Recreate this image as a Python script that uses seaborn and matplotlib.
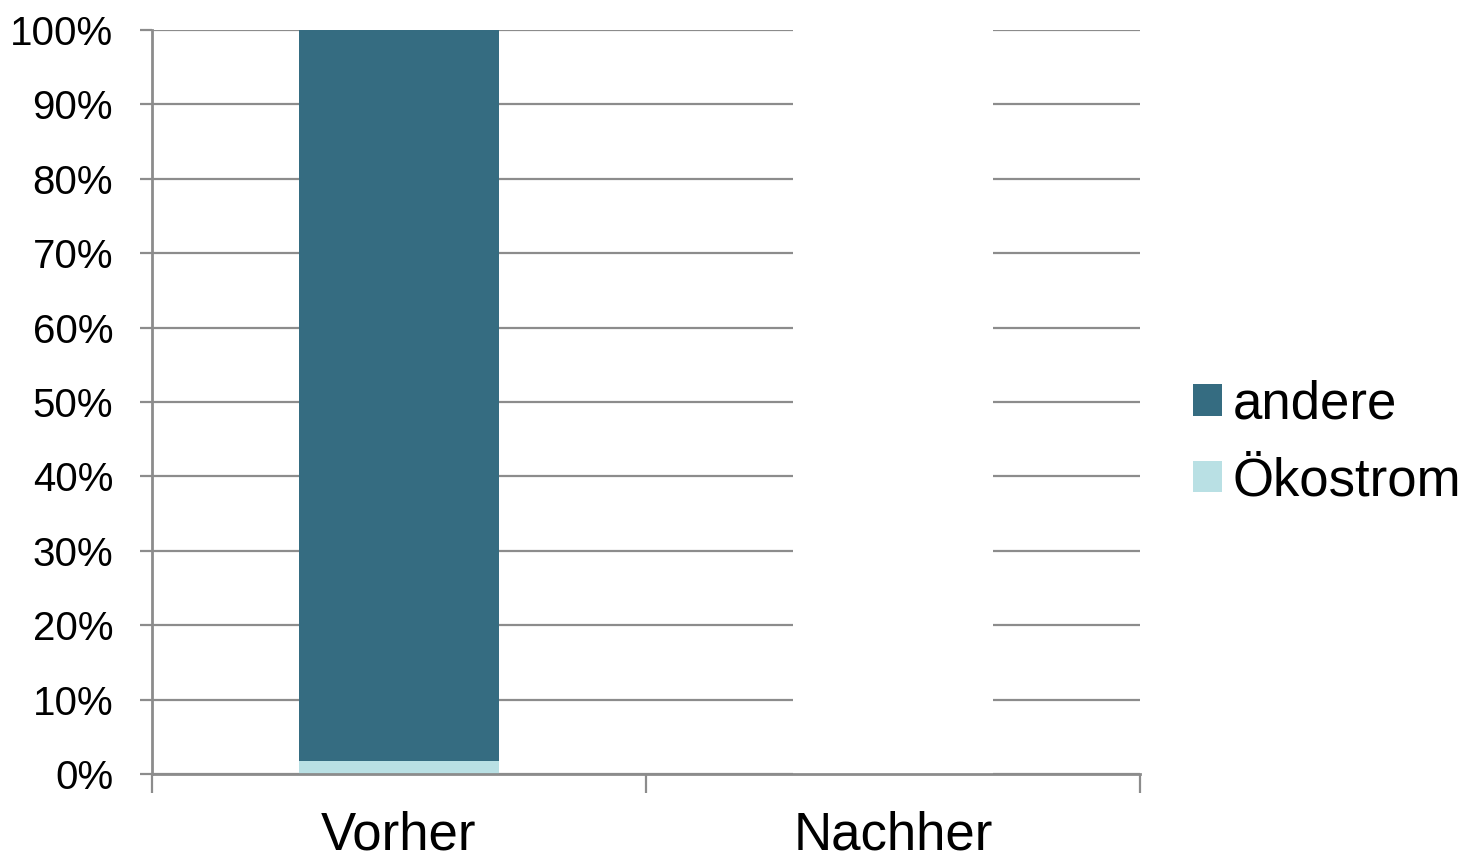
import matplotlib
matplotlib.use("Agg")
import matplotlib.pyplot as plt
from matplotlib.patches import Patch
from matplotlib.ticker import FixedLocator
import seaborn as sns
import pandas as pd

# Electricity mix before and after switching supplier
categories = ["Vorher", "Nachher"]
oekostrom = [1.8, 0.0]
andere = [98.2, 0.0]
blank = [0.0, 100.0]   # empty column for "Nachher"
y_ticks = [0, 10, 20, 30, 40, 50, 60, 70, 80, 90, 100]
series_names = ["andere", "Ökostrom"]

col_andere = "#356c81"
col_oeko = "#b9e0e4"
grid_col = "#8c8c8c"

sns.set_theme(style="white")
plt.rcParams["font.family"] = ["Liberation Sans", "DejaVu Sans"]
plt.rcParams["text.color"] = "black"
plt.rcParams["xtick.color"] = "black"
plt.rcParams["ytick.color"] = "black"

df = pd.DataFrame({
    "cat": categories,
    "oeko": oekostrom,
    "total": [a + o for a, o in zip(andere, oekostrom)],
    "blank": blank,
})

fig = plt.figure(figsize=(14.63, 8.58), dpi=100)
ax = fig.add_axes([152 / 1463, 1 - 774 / 858, (1140 - 152) / 1463, (774 - 30) / 858])

bw = 0.405
sns.barplot(data=df, x="cat", y="blank", color="white", width=bw, ax=ax,
            saturation=1, linewidth=0, zorder=2)
sns.barplot(data=df, x="cat", y="total", color=col_andere, width=bw, ax=ax,
            saturation=1, linewidth=0, zorder=2)
sns.barplot(data=df, x="cat", y="oeko", color=col_oeko, width=bw, ax=ax,
            saturation=1, linewidth=0, zorder=2)

ax.set_xlim(-0.5, 1.5)
ax.set_ylim(0, 100)
ax.set_yticks(y_ticks)
ax.set_yticklabels([f"{v}%" for v in y_ticks])
ax.yaxis.grid(True, color=grid_col, linewidth=1.6, zorder=0)
ax.set_axisbelow(True)
ax.set_xlabel("")
ax.set_ylabel("")

for s in ["top", "right"]:
    ax.spines[s].set_visible(False)
for s in ["left", "bottom"]:
    ax.spines[s].set_color(grid_col)
    ax.spines[s].set_linewidth(2)
    ax.spines[s].set_zorder(3)

ax.tick_params(axis="y", which="major", length=9, width=1.6, color=grid_col,
               labelcolor="black", direction="out", labelsize=29, pad=19,
               left=True)
ax.tick_params(axis="x", which="major", length=0, labelsize=38, pad=26,
               labelcolor="black")
# category boundary ticks on the x axis
ax.xaxis.set_minor_locator(FixedLocator([-0.5, 0.5, 1.5]))
ax.tick_params(axis="x", which="minor", length=14, width=1.6, color=grid_col,
               direction="out", bottom=True)

handles = [Patch(facecolor=col_andere, edgecolor="none"),
           Patch(facecolor=col_oeko, edgecolor="none")]
fig.legend(handles, series_names, loc="center left",
           bbox_to_anchor=(1172 / 1463, 1 - 443 / 858),
           frameon=False, fontsize=38, handlelength=0.55, handleheight=0.55,
           handletextpad=0.2, labelspacing=0.5, borderaxespad=0,
           labelcolor="black")

fig.savefig("out.png", dpi=100)
